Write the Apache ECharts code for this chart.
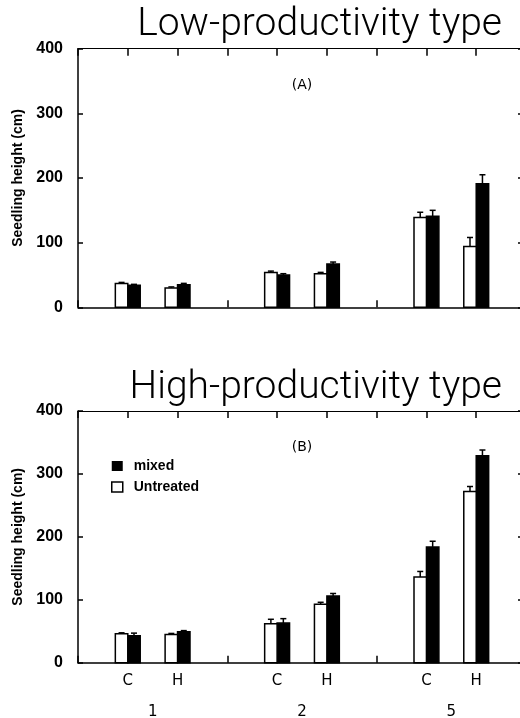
<!DOCTYPE html>
<html>
<head>
<meta charset="utf-8">
<script src="https://cdn.jsdelivr.net/npm/echarts@6/dist/echarts.min.js"></script>
<style>html,body{margin:0;padding:0;background:#fff;}#c{width:520px;height:718px;}</style>
</head>
<body>
<div id="c"></div>
<script>
// ---- data ----
var groups = ['1', '2', '5'];
var treatments = ['C', 'H'];
var yTicks = [0, 100, 200, 300, 400];
var seriesNames = ['mixed', 'Untreated'];
// Panel A: Low-productivity type (order: 1C,1H,2C,2H,5C,5H)
var lowUntreated = [37, 30, 54, 52, 139, 94];
var lowUntreatedErr = [1.5, 1.5, 2, 2, 8, 14];
var lowMixed = [34, 35, 50, 67, 141, 191];
var lowMixedErr = [1.5, 2, 2, 3, 9, 14];
// Panel B: High-productivity type
var highUntreated = [46, 45, 62, 93, 136, 272];
var highUntreatedErr = [1.5, 1.5, 7, 3, 9, 8];
var highMixed = [43, 49, 63, 106, 184, 329];
var highMixedErr = [4, 2, 7, 4, 9, 9];
var panelTitles = ['Low-productivity type', 'High-productivity type'];
var panelLabels = ['(A)', '(B)'];

// ---- build ----
function slotX(i) { // group g, treatment s -> axis slot
  var g = Math.floor(i / treatments.length), s = i % treatments.length;
  return g * (treatments.length + 1) + 1 + s;
}
function build(vals, errs) {
  return vals.map(function (v, i) { return [slotX(i), v, errs[i]]; });
}
function tickLabel(v) {
  var n = treatments.length + 1;
  var r = v % n;
  if (v <= 0 || r === 0) return '';
  return treatments[r - 1] || '';
}
function makeRender(side, fill) {
  return function (params, api) {
    var x = api.value(0), v = api.value(1), e = api.value(2);
    var base = api.coord([x, 0]);
    var top = api.coord([x, v]);
    var et = api.coord([x, v + e]);
    var w = api.size([0.25, 0])[0];
    var x0 = side < 0 ? base[0] - w : base[0];
    var cx = x0 + w / 2;
    return {
      type: 'group',
      children: [
        { type: 'line', shape: { x1: cx, y1: top[1], x2: cx, y2: et[1] }, style: { stroke: '#000', lineWidth: 1.5 } },
        { type: 'line', shape: { x1: cx - 3, y1: et[1], x2: cx + 3, y2: et[1] }, style: { stroke: '#000', lineWidth: 1.5 } },
        { type: 'rect', shape: { x: x0, y: top[1], width: w, height: base[1] - top[1] }, style: { fill: fill, stroke: '#000', lineWidth: 1.5 } }
      ]
    };
  };
}
var xMax = groups.length * (treatments.length + 1);
var grids = [
  { left: 78, top: 48.7, width: 448, height: 258.6, outerBoundsMode: 'none', containLabel: false },
  { left: 78, top: 411, width: 448, height: 251.7, outerBoundsMode: 'none', containLabel: false }
];
var xAxes = [], yAxes = [], series = [];
[0, 1].forEach(function (gi) {
  // bottom axis
  xAxes.push({
    type: 'value', gridIndex: gi, position: 'bottom', min: 0, max: xMax, interval: 1,
    axisLine: { show: true, onZero: false, lineStyle: { color: '#000', width: 1.5 } },
    axisTick: { show: true, inside: true, length: 7, lineStyle: { color: '#000', width: 1.5 } },
    splitLine: { show: false },
    axisLabel: {
      show: gi === 1, formatter: tickLabel, color: '#000', fontFamily: 'DejaVu Sans', fontSize: 15, margin: 11,
      showMinLabel: true, showMaxLabel: true
    }
  });
  // top border
  xAxes.push({
    type: 'value', gridIndex: gi, position: 'top', min: 0, max: xMax, interval: 1,
    axisLine: { show: true, onZero: false, lineStyle: { color: '#000', width: 1.2 } },
    axisTick: { show: true, inside: true, length: 7, lineStyle: { color: '#000', width: 1.5 } },
    splitLine: { show: false }, axisLabel: { show: false }
  });
  yAxes.push({
    type: 'value', gridIndex: gi, position: 'left', min: yTicks[0], max: yTicks[yTicks.length - 1], interval: 100,
    name: 'Seedling height (cm)', nameLocation: 'middle', nameGap: 53,
    nameTextStyle: { color: '#000', fontFamily: 'Liberation Sans', fontWeight: 'bold', fontSize: 14 },
    axisLine: { show: true, onZero: false, lineStyle: { color: '#000', width: 1.5 } },
    axisTick: { show: true, inside: true, length: 5, lineStyle: { color: '#000', width: 1.5 } },
    splitLine: { show: false },
    axisLabel: { color: '#000', fontFamily: 'Liberation Sans', fontWeight: 'bold', fontSize: 16, margin: 15 }
  });
  yAxes.push({
    type: 'value', gridIndex: gi, position: 'right', min: yTicks[0], max: yTicks[yTicks.length - 1], interval: 100,
    axisLine: { show: true, onZero: false, lineStyle: { color: '#000', width: 1.5 } },
    axisTick: { show: true, inside: true, length: 8, lineStyle: { color: '#000', width: 1.5 } },
    splitLine: { show: false }, axisLabel: { show: false }
  });
});
// group labels axis
xAxes.push({
  type: 'category', gridIndex: 1, position: 'bottom', data: groups, boundaryGap: true,
  axisLine: { show: false }, axisTick: { show: false }, splitLine: { show: false },
  axisLabel: { color: '#000', fontFamily: 'DejaVu Sans', fontSize: 15, margin: 42 }
});

var panels = [
  [lowMixed, lowMixedErr, lowUntreated, lowUntreatedErr],
  [highMixed, highMixedErr, highUntreated, highUntreatedErr]
];
panels.forEach(function (p, gi) {
  series.push({
    name: seriesNames[0], type: 'custom', xAxisIndex: gi * 2, yAxisIndex: gi * 2,
    renderItem: makeRender(1, '#000'), data: build(p[0], p[1]),
    encode: { x: 0, y: 1 }, itemStyle: { color: '#000' }, silent: true, z: 5
  });
  series.push({
    name: seriesNames[1], type: 'custom', xAxisIndex: gi * 2, yAxisIndex: gi * 2,
    renderItem: makeRender(-1, '#fff'), data: build(p[2], p[3]),
    encode: { x: 0, y: 1 }, itemStyle: { color: '#fff' }, silent: true, z: 5
  });
});

var option = {
  animation: false,
  backgroundColor: '#fff',
  title: [
    { text: panelTitles[0], right: 18, top: 6, padding: 0,
      textStyle: { fontFamily: 'Roboto', fontWeight: 300, fontSize: 39, color: '#000' } },
    { text: panelTitles[1], right: 18, top: 369, padding: 0,
      textStyle: { fontFamily: 'Roboto', fontWeight: 300, fontSize: 39, color: '#000' } },
    { text: panelLabels[0], left: 302, textAlign: 'center', top: 78, padding: 0,
      textStyle: { fontFamily: 'DejaVu Sans', fontWeight: 'normal', fontSize: 14, color: '#000' } },
    { text: panelLabels[1], left: 302, textAlign: 'center', top: 440, padding: 0,
      textStyle: { fontFamily: 'DejaVu Sans', fontWeight: 'normal', fontSize: 14, color: '#000' } }
  ],
  legend: {
    orient: 'vertical', left: 111, top: 459, padding: 0, selectedMode: false,
    itemWidth: 11, itemHeight: 10, itemGap: 7, icon: 'rect',
    textStyle: { color: '#000', fontFamily: 'Liberation Sans', fontWeight: 'bold', fontSize: 14, padding: [0, 0, 0, 6] },
    data: [
      { name: seriesNames[0], itemStyle: { color: '#000', borderWidth: 0 } },
      { name: seriesNames[1], itemStyle: { color: '#fff', borderColor: '#000', borderWidth: 1.5 } }
    ]
  },
  grid: grids,
  xAxis: xAxes,
  yAxis: yAxes,
  series: series
};
var chart = echarts.init(document.getElementById('c'), null, { renderer: 'canvas' });
chart.setOption(option);
</script>
</body>
</html>
